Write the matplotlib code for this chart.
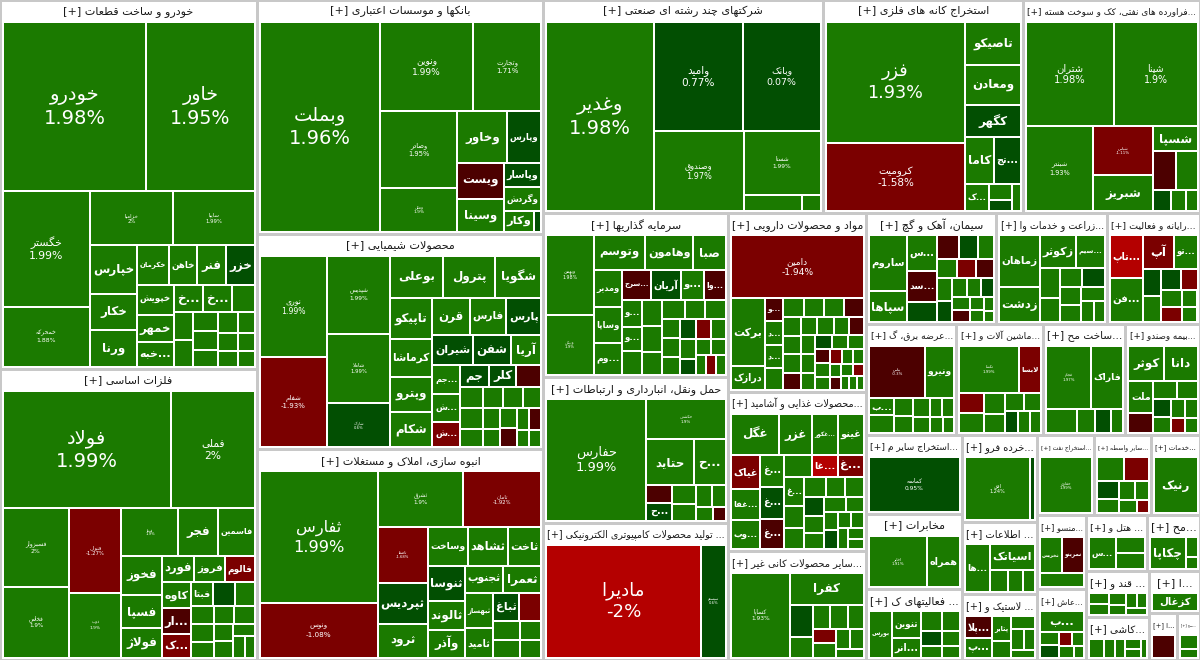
import matplotlib
matplotlib.use("Agg")
import matplotlib.pyplot as plt
from matplotlib.patches import Rectangle

plt.rcParams['font.family'] = ['DejaVu Sans']

# ---------------- data ----------------
t01 = "خودرو و ساخت قطعات"
n01 = ["خودرو", "خاور", "خگستر", "خمحرکه", "خزامیا", "سایپا", "خپارس", "خکار", "ورنا", "خکرمان", "خاهن", "فنر", "خزر", "خپویش", "خمهر", "...خبه", "...خ", "...خ", "", "", "", "", "", "", "", "", "", "", "", ""]
v01 = [236, 178, 98, 51, 43, 43, 22, 16.5, 16.5, 12, 11, 11, 11, 10.5, 9.5, 8.7, 7.5, 7.5, 6, 5.5, 5, 4.5, 4.5, 4, 4, 3.5, 3.5, 3, 3, 2.5]
c01 = [1.98, 1.95, 1.99, 1.88, 2, 1.99, 1.95, 1.8, 1.7, 1.8, 1.7, 1.6, 0.5, 1.8, 1.6, 1.7, 1.5, 1.5, 1.5, 1.5, 1.5, 1.5, 1.5, 1.5, 1.5, 1.5, 1.5, 1.5, 1.5, 1.5]

t02 = "فلزات اساسی"
n02 = ["فولاد", "فملی", "فسبزوار", "فخاس", "فنوال", "ذوب", "فپنتا", "فجر", "فاسمین", "فخوز", "فسپا", "فولاژ", "فورد", "فروز", "فالوم", "کاوه", "...ار", "...ک", "فبتا", "", "", "", "", "", "", "", "", "", "", "", ""]
v02 = [188, 93, 50, 45, 42, 32, 26, 18, 17, 15, 12.6, 11.4, 8, 7.5, 7.3, 7.3, 7, 6.5, 5, 4.8, 4.5, 4, 4, 3.5, 3.5, 3.5, 3, 3, 2.5, 2.5, 2]
c02 = [1.99, 2, 2, 1.9, -1.27, 1.9, 1.9, 1.8, 1.7, 1.8, 1.6, 1.7, 1.5, 1.6, -1.5, 1.6, -0.5, -1.5, 1.5, 0.5, 1.5, 1.5, 1.5, 1.5, 1.5, 1.5, 1.5, 1.5, 1.5, 1.5, 1.5]

t03 = "بانکها و موسسات اعتباری"
n03 = ["وبملت", "ونوین", "وتجارت", "وصادر", "وملل", "وخاور", "وپارس", "ویست", "وسینا", "وپاسار", "وگردش", "وکار", ""]
v03 = [249, 82, 60, 58, 33, 25, 17, 16.6, 15, 9, 8.5, 6, 1.5]
c03 = [1.96, 1.99, 1.71, 1.95, 1.9, 1.8, 0.5, -0.6, 1.5, 0.4, 1.5, 1.5, 0.3]

t04 = "محصولات شیمیایی"
n04 = ["نوری", "شفام", "شپدیس", "شاملا", "شاراک", "بوعلی", "پترول", "شگویا", "تاپیکو", "کرماشا", "وپترو", "شکام", "قرن", "فارس", "پارس", "شیران", "شفن", "آریا", "...جم", "...ش", "...ش", "جم", "کلر", "", "", "", "", "", "", "", "", "", "", "", "", "", "", ""]
v04 = [64, 57, 46, 41, 26, 20.7, 20.7, 18, 16.4, 15, 14, 14, 13, 12.6, 12, 11.5, 11, 8.5, 7.5, 7, 6.5, 6, 5.5, 5, 4.5, 4.5, 4, 4, 4, 3.5, 3.5, 3, 3, 3, 2.5, 2.5, 2, 2]
c04 = [1.99, -1.93, 1.99, 1.99, 0.6, 1.9, 1.8, 1.8, 1.7, 1.7, 1.6, 1.6, 1.7, 1.6, 0.5, 0.4, 0.5, 1.5, 1.5, 1.5, -1.5, 0.5, 0.5, -0.5, 1.5, 1.5, 1.5, 1.5, 1.5, 1.5, 1.5, 1.5, 1.5, -0.5, 1.5, -0.5, 1.5, 1.5]

t05 = "انبوه سازی، املاک و مستغلات"
n05 = ["ثفارس", "ونوس", "ثشرق", "ثامان", "ثاصفا", "ثپردیس", "ثرود", "وساخت", "ثشاهد", "ثاخت", "ثنوسا", "ثالوند", "وآذر", "ثجنوب", "ثعمرا", "ثبهساز", "ثامید", "ثباغ", "", "", "", "", ""]
v05 = [150, 62, 46, 42, 27, 20, 16, 15, 15, 12.5, 12.5, 10.5, 10, 9.8, 9.8, 9.5, 8, 7, 6, 5, 4.5, 4, 3.5]
c05 = [1.99, -1.08, 1.9, -1.92, -1.68, 0.6, 1.8, 1.7, 1.6, 1.8, 0.5, 1.7, 1.6, 1.7, 1.6, 1.7, 1.6, 0.5, -1.5, 1.5, 1.5, 1.5, 1.5]

t06 = "شرکتهای چند رشته ای صنعتی"
n06 = ["وغدیر", "وامید", "وبانک", "وصندوق", "شستا", "", ""]
v06 = [203, 97, 85, 72, 49, 9.3, 3]
c06 = [1.98, 0.77, 0.07, 1.97, 1.99, 1.5, 1.5]

t07 = "استخراج کانه های فلزی"
n07 = ["فزر", "کرومیت", "تاصیکو", "ومعادن", "کگهر", "کاما", "...تج", "...ک", "", "", ""]
v07 = [168, 95, 24, 22, 18, 13.3, 12.4, 6.5, 3.5, 2.5, 2.5]
c07 = [1.93, -1.58, 1.8, 1.7, 0.5, 1.6, 0.5, 1.5, 1.5, 0.5, 1.5]

t08 = "...فراورده های نفتی، کک و سوخت هسته"
n08 = ["شتران", "شپنا", "شبندر", "شپاس", "شبریز", "شسپا", "", "", "", "", ""]
v08 = [92, 87, 57, 30, 22, 11, 9, 8.5, 3.7, 3, 2.5]
c08 = [1.98, 1.9, 1.93, -1.11, 1.8, 1.6, -0.5, 1.5, 0.5, 1.5, 1.5]

t09 = "سرمایه گذاریها"
n09 = ["وبهمن", "ونیکی", "وتوسم", "وهامون", "صبا", "ومدیر", "وساپا", "...وم", "...سرج", "آریان", "...و", "...وا", "...و", "...و", "", "", "", "", "", "", "", "", "", "", "", "", "", "", "", "", "", "", "", ""]
v09 = [38, 29, 18, 16.6, 11.5, 10.5, 10.5, 9, 9, 9, 7, 6.7, 5.5, 5, 5, 5, 5, 4.5, 4.5, 4, 4, 3.5, 3.5, 3.5, 3, 3, 3, 3, 2.5, 2.5, 2.5, 2, 2, 2]
c09 = [1.98, 1.9, 1.8, 1.7, 1.6, 1.7, 1.6, 1.5, -0.5, 0.5, 1.5, -0.5, 1.5, 1.5, 1.5, 1.5, 1.5, 1.5, 1.5, 1.5, 1.5, 1.5, 1.5, 1.5, 0.5, -1.5, 1.5, 1.5, 0.5, 1.5, 1.5, 1.5, -1.5, 1.5]

t10 = "حمل ونقل، انبارداری و ارتباطات"
n10 = ["حفارس", "حکشتی", "حتاید", "...ح", "", "...ح", "", "", "", "", "", ""]
v10 = [123, 32, 22, 15, 4.7, 4.5, 4.5, 4, 3.5, 3, 2.5, 1.8]
c10 = [1.99, 1.9, 1.8, 1.5, -0.5, 0.5, 1.5, 1.5, 1.5, 1.5, 1.5, -0.5]

t11 = "... تولید محصولات کامپیوتری الکترونیکی"
n11 = ["مادیرا", "سیستم"]
v11 = [180, 29]
c11 = [-2, 0.6]

t12 = "مواد و محصولات دارویی"
n12 = ["دامین", "برکت", "درازک", "...و", "...د", "...د"] + [""] * 32
v12 = [90, 25, 8.6, 4.6, 4.6, 4.6, 4.4, 4.2, 4.2, 4.0, 4.0, 3.8, 3.6, 3.6, 3.4, 3.2, 3.2, 3.0, 3.0, 2.8, 2.8, 2.6, 2.6, 2.4, 2.4, 2.2, 2.2, 2.0, 2.0, 1.8, 1.8, 1.6, 1.6, 1.4, 1.4, 1.2, 1.2, 1.0]
c12 = [-1.94, 1.9, 1.5, -0.5, 1.5, 1.5, 1.5, 1.5, 1.5, 1.5, -0.5, 1.5, 1.5, 1.5, -0.5, 1.5, 1.5, 1.5, -0.5, 1.5, 1.5, 1.5, 0.5, 1.5, 1.5, -0.5, 1.5, 1.5, -1.5, 1.5, 1.5, 1.5, -0.5, 1.5, -1.5, 1.5, 1.5, 1.5]

t13 = "...محصولات غذایی و آشامید"
n13 = ["غگل", "غزر", "...غکور", "غینو", "غیاک", "...غفا", "...وب", "...غ", "...غ", "...غ", "", "...غا", "...غ", "...غ"] + [""] * 17
v13 = [18.7, 12.5, 10, 10, 9.5, 8.5, 8, 7, 7, 6.5, 6, 5.5, 5.5, 5.5, 4.5, 4, 4, 3.5, 3.5, 3.5, 3, 3, 3, 2.5, 2.5, 2.5, 2, 2, 2, 1.5, 1.5]
c13 = [1.9, 1.8, 1.6, 1.7, -1.5, 1.5, 1.5, 1.5, 0.5, -0.5, 1.5, -2.2, -1.5, 1.5, 1.5, 1.5, 1.5, 1.5, 1.5, 0.5, 1.5, 1.5, 1.5, 1.5, 1.5, 0.5, 1.5, 1.5, 1.5, 1.5, 1.5]

t14 = "...سایر محصولات کانی غیر"
n14 = ["کساپا", "کفرا", "", "", "", "", "", "", "", "", "", ""]
v14 = [53, 25, 7.6, 5, 4.5, 4.5, 4, 3.5, 3.5, 3, 3, 2.5]
c14 = [1.93, 2, 0.5, 1.5, 1.5, 1.5, 1.5, -1.5, 1.5, 1.5, 1.5, 1.5]

t15 = "سیمان، آهک و گچ"
n15 = ["ساروم", "سپاها", "...س", "...سد"] + [""] * 18
v15 = [19, 10.5, 9.6, 8.4, 5.2, 4.5, 4, 3.5, 3.5, 3.2, 3.2, 3, 2.8, 2.6, 2.4, 2.2, 2, 1.8, 1.6, 1.5, 1.2, 1.0]
c15 = [1.9, 1.8, 1.5, -0.6, 0.5, -0.5, 0.5, 1.5, 1.5, -1.5, -0.5, 1.5, 0.5, 1.5, 1.5, 0.5, 1.5, -0.5, 1.5, 1.5, 1.5, 1.5]

t16 = "...زراعت و خدمات وا"
n16 = ["زماهان", "زدشت", "زکوثر", "...سیم", "", "", "", "", "", "", "", "", ""]
v16 = [19.6, 13, 11, 8.7, 5.4, 4.2, 4, 4, 3.5, 3.2, 3, 2.5, 2]
c16 = [1.9, 1.8, 1.8, 1.6, 1.5, 1.5, 1.5, 0.5, 1.5, 1.5, 1.5, 1.5, 1.5]

t17 = "...رایانه و فعالیت"
n17 = ["...تاپ", "...فن", "آپ", "...تو", "", "", "", "", "", "", "", ""]
v17 = [12, 12, 8.7, 6.7, 4.2, 4, 3.6, 3, 2.8, 2.5, 2.2, 2]
c17 = [-2.5, 1.5, -1.5, 1.5, 0.5, 1.5, 0.5, -1.5, 1.5, -1.5, 1.5, 1.5]

t18 = "...عرضه برق، گ"
n18 = ["بپاس", "ونیرو", "...ب", "", "", "", "", "", "", "", "", ""]
v18 = [33, 17, 5, 5, 4, 3.6, 3.4, 3, 2.8, 2.6, 2.4, 2]
c18 = [-0.3, 1.8, 1.5, 1.5, 1.5, 1.5, 1.5, 1.5, 1.5, 1.5, 1.5, 1.5]

t19 = "...ماشین آلات و"
n19 = ["تکشا", "لابسا", "", "", "", "", "", "", "", "", ""]
v19 = [29, 10.8, 5, 5, 4.5, 4, 3.5, 3.2, 3, 2.8, 2.5]
c19 = [1.99, -1.5, -1.5, 1.5, 1.5, 1.5, 1.5, 1.5, 0.5, 1.5, 1.5]

t20 = "...ساخت مح"
n20 = ["فجام", "فاراک", "", "", "", ""]
v20 = [30, 22, 7.6, 4.5, 4.2, 3]
c20 = [1.97, 1.8, 1.5, 1.5, 0.5, 1.5]

t21 = "...بیمه وصندو"
n21 = ["کوثر", "دانا", "ملت", "", "", "", "", "", "", "", "", ""]
v21 = [13.3, 12.6, 8.4, 5.2, 4.5, 4, 3.4, 3, 2.8, 2.5, 2.2, 2]
c21 = [1.8, 1.7, 1.6, -0.5, 1.5, 1.5, 0.5, 1.5, 1.5, 1.5, -1.5, 1.5]

t22 = "...استخراج سایر م"
n22 = ["کماسه"]
v22 = [56]
c22 = [0.95]

t23 = "مخابرات"
n23 = ["اخابر", "همراه"]
v23 = [33, 19]
c23 = [1.91, 1.8]

t24 = "...خرده فرو"
n24 = ["افق", ""]
v24 = [44, 3.5]
c24 = [1.24, 0.5]

t25 = "... فعالیتهای ک"
n25 = ["بورس", "تنوین", "...انر", "", "", "", "", "", ""]
v25 = [10.5, 7.6, 5.4, 4, 3.5, 3, 2.5, 2.5, 2]
c25 = [1.8, 1.7, 1.6, 1.5, 1.5, 0.5, 1.5, 1.5, 1.5]

t26 = "... اطلاعات"
n26 = ["...ها", "اسیاتک", "", "", ""]
v26 = [13.5, 12.7, 4.5, 3.5, 3]
c26 = [1.7, 1.6, 1.5, 1.5, 1.5]

t27 = "... لاستیک و"
n27 = ["...پلا", "...پ", "پتایر", "", "", "", "", ""]
v27 = [6.7, 6, 5.5, 3.5, 3.5, 3, 2.5, 2]
c27 = [-0.5, 1.5, 1.5, 1.5, 1.5, 1.5, 1.5, 1.5]

t28 = "...استخراج نفت"
n28 = ["حفاری"]
v28 = [26]
c28 = [1.99]

t29 = "...سایر واسطه"
n29 = ["", "", "", "", "", "", "", ""]
v29 = [6, 5.4, 3.6, 3, 2.8, 2.5, 2.2, 1.5]
c29 = [1.5, -1.5, 0.5, 1.5, 1.5, 1.5, 1.5, -1.5]

t30 = "...خدمات"
n30 = ["رنیک"]
v30 = [24]
c30 = [1.99]

t31 = "...منسو"
n31 = ["نخریس", "نمرینو", ""]
v31 = [8, 8, 6.2]
c31 = [1.6, -0.5, 1.5]

t32 = "... هتل و"
n32 = ["...س", "", ""]
v32 = [8, 4.4, 4.4]
c32 = [1.5, 1.5, 1.5]

t33 = "...عاش"
n33 = ["...ب", "", "", "", "", "", ""]
v33 = [10.5, 3, 2.8, 2, 2, 2, 1.5]
c33 = [1.5, 1.5, 0.5, -1.5, 1.5, 1.5, 1.5]

t34 = "...مح"
n34 = ["چکاپا", "", ""]
v34 = [12.5, 2.5, 1.5]
c34 = [1.6, 1.5, 1.5]

t35 = "...کاشی"
n35 = ["", "", "", "", "", ""]
v35 = [5, 4, 3.5, 3, 2.5, 2]
c35 = [1.5, 1.5, 1.5, 1.5, 1.5, 1.5]

t36 = "... قند و"
n36 = ["", "", "", "", "", "", ""]
v36 = [3, 2.8, 2.6, 2.4, 2.2, 2, 1.8]
c36 = [1.5, 1.5, 1.5, 1.5, 1.5, 1.5, 1.5]

t37 = "...ا"
n37 = ["کزغال"]
v37 = [13]
c37 = [1.8]

t38 = "...ا"
n38 = [""]
v38 = [7]
c38 = [-0.5]

t39 = "...سح"
n39 = ["", ""]
v39 = [3, 2]
c39 = [1.5, 1.5]

# sector weights (market value share), same order as t01..t39
sector_sizes = [931, 734, 657, 606, 590, 586, 420, 370, 297, 264, 248, 242, 215, 147, 141, 120,
                100, 99, 95, 90, 81, 74, 71, 64, 66, 53, 48, 45, 45, 38, 36, 33, 34, 29, 26, 28, 21, 13, 10]

# ---------------- Arabic shaping (matplotlib has no complex text layout) ----------------
_AR = {
    'ء': (0xFE80, None, None, None), 'آ': (0xFE81, 0xFE82, None, None), 'أ': (0xFE83, 0xFE84, None, None),
    'ؤ': (0xFE85, 0xFE86, None, None), 'إ': (0xFE87, 0xFE88, None, None), 'ئ': (0xFE89, 0xFE8A, 0xFE8B, 0xFE8C),
    'ا': (0xFE8D, 0xFE8E, None, None), 'ب': (0xFE8F, 0xFE90, 0xFE91, 0xFE92), 'ة': (0xFE93, 0xFE94, None, None),
    'ت': (0xFE95, 0xFE96, 0xFE97, 0xFE98), 'ث': (0xFE99, 0xFE9A, 0xFE9B, 0xFE9C), 'ج': (0xFE9D, 0xFE9E, 0xFE9F, 0xFEA0),
    'ح': (0xFEA1, 0xFEA2, 0xFEA3, 0xFEA4), 'خ': (0xFEA5, 0xFEA6, 0xFEA7, 0xFEA8), 'د': (0xFEA9, 0xFEAA, None, None),
    'ذ': (0xFEAB, 0xFEAC, None, None), 'ر': (0xFEAD, 0xFEAE, None, None), 'ز': (0xFEAF, 0xFEB0, None, None),
    'س': (0xFEB1, 0xFEB2, 0xFEB3, 0xFEB4), 'ش': (0xFEB5, 0xFEB6, 0xFEB7, 0xFEB8), 'ص': (0xFEB9, 0xFEBA, 0xFEBB, 0xFEBC),
    'ض': (0xFEBD, 0xFEBE, 0xFEBF, 0xFEC0), 'ط': (0xFEC1, 0xFEC2, 0xFEC3, 0xFEC4), 'ظ': (0xFEC5, 0xFEC6, 0xFEC7, 0xFEC8),
    'ع': (0xFEC9, 0xFECA, 0xFECB, 0xFECC), 'غ': (0xFECD, 0xFECE, 0xFECF, 0xFED0), 'ف': (0xFED1, 0xFED2, 0xFED3, 0xFED4),
    'ق': (0xFED5, 0xFED6, 0xFED7, 0xFED8), 'ك': (0xFED9, 0xFEDA, 0xFEDB, 0xFEDC), 'ل': (0xFEDD, 0xFEDE, 0xFEDF, 0xFEE0),
    'م': (0xFEE1, 0xFEE2, 0xFEE3, 0xFEE4), 'ن': (0xFEE5, 0xFEE6, 0xFEE7, 0xFEE8), 'ه': (0xFEE9, 0xFEEA, 0xFEEB, 0xFEEC),
    'و': (0xFEED, 0xFEEE, None, None), 'ى': (0xFEEF, 0xFEF0, None, None), 'ي': (0xFEF1, 0xFEF2, 0xFEF3, 0xFEF4),
    'پ': (0xFB56, 0xFB57, 0xFB58, 0xFB59), 'چ': (0xFB7A, 0xFB7B, 0xFB7C, 0xFB7D), 'ژ': (0xFB8A, 0xFB8B, None, None),
    'ک': (0xFB8E, 0xFB8F, 0xFB90, 0xFB91), 'گ': (0xFB92, 0xFB93, 0xFB94, 0xFB95), 'ی': (0xFBFC, 0xFBFD, 0xFBFE, 0xFBFF),
}
_LAMALEF = {'ا': (0xFEFB, 0xFEFC), 'آ': (0xFEF5, 0xFEF6), 'أ': (0xFEF7, 0xFEF8), 'إ': (0xFEF9, 0xFEFA)}


def _dual(c):
    return c in _AR and _AR[c][2] is not None


def shape(s):
    out = []
    i, n = 0, len(s)
    while i < n:
        c = s[i]
        if c not in _AR:
            if c != '\u200c':
                out.append(c)
            i += 1
            continue
        jp = i > 0 and _dual(s[i - 1])
        if c == 'ل' and i + 1 < n and s[i + 1] in _LAMALEF:
            iso, fin = _LAMALEF[s[i + 1]]
            out.append(chr(fin if jp else iso))
            i += 2
            continue
        jn = _dual(c) and i + 1 < n and s[i + 1] in _AR
        f = _AR[c]
        if jp and jn:
            code = f[3]
        elif jp:
            code = f[1]
        elif jn:
            code = f[2]
        else:
            code = f[0]
        out.append(chr(code))
        i += 1
    return ''.join(out)


def vis(s):
    return shape(s)[::-1]


# ---------------- squarified layout ----------------
def _asp(a, b):
    if a <= 0.5 or b <= 0.5:
        return 1e9
    return max(a / b, b / a)


def squarify(vals, x, y, w, h, pw=0.0, ph=0.0):
    out = []
    i, n = 0, len(vals)
    while i < n:
        rest = sum(vals[i:])
        horiz = w < h

        def worst(j):
            s = sum(vals[i:j])
            if horiz:
                t = h * s / rest
                return max(_asp(w * v / s - pw, t - ph) for v in vals[i:j])
            t = w * s / rest
            return max(_asp(t - pw, h * v / s - ph) for v in vals[i:j])

        j = i + 1
        cur = worst(j)
        while j < n:
            nw = worst(j + 1)
            if nw > cur:
                break
            cur = nw
            j += 1
        s = sum(vals[i:j])
        if horiz:
            t = h * s / rest
            xx = x
            for v in vals[i:j]:
                ww = w * v / s
                out.append((xx, y, ww, t))
                xx += ww
            y += t
            h -= t
        else:
            t = w * s / rest
            yy = y
            for v in vals[i:j]:
                hh = h * v / s
                out.append((x, yy, t, hh))
                yy += hh
            x += t
            w -= t
        i = j
    return out


GREEN, DKGREEN, DKRED, RED, BRRED = '#1b7a00', '#024f02', '#4c0000', '#7b0000', '#b40000'


def color(c):
    if c >= 1:
        return GREEN
    if c >= 0:
        return DKGREEN
    if c > -1:
        return DKRED
    if c > -2:
        return RED
    return BRRED


def pct(c):
    return ('%g' % c) + '%'


titles = [t01, t02, t03, t04, t05, t06, t07, t08, t09, t10, t11, t12, t13, t14, t15, t16, t17, t18, t19, t20,
          t21, t22, t23, t24, t25, t26, t27, t28, t29, t30, t31, t32, t33, t34, t35, t36, t37, t38, t39]
names = [n01, n02, n03, n04, n05, n06, n07, n08, n09, n10, n11, n12, n13, n14, n15, n16, n17, n18, n19, n20,
         n21, n22, n23, n24, n25, n26, n27, n28, n29, n30, n31, n32, n33, n34, n35, n36, n37, n38, n39]
values = [v01, v02, v03, v04, v05, v06, v07, v08, v09, v10, v11, v12, v13, v14, v15, v16, v17, v18, v19, v20,
          v21, v22, v23, v24, v25, v26, v27, v28, v29, v30, v31, v32, v33, v34, v35, v36, v37, v38, v39]
changes = [c01, c02, c03, c04, c05, c06, c07, c08, c09, c10, c11, c12, c13, c14, c15, c16, c17, c18, c19, c20,
           c21, c22, c23, c24, c25, c26, c27, c28, c29, c30, c31, c32, c33, c34, c35, c36, c37, c38, c39]

W, H = 1200, 660
HEADER = 20
fig = plt.figure(figsize=(12, 6.6), dpi=100)
fig.patch.set_facecolor('#c8c8c8')
ax = fig.add_axes([0, 0, 1, 1])
ax.set_xlim(0, W)
ax.set_ylim(H, 0)
ax.axis('off')
renderer = fig.canvas.get_renderer()


def fit(texts, maxw, maxh=None):
    widths = [t.get_window_extent(renderer).width for t in texts]
    scale = 1.0
    wmax = max(widths) if widths else 0
    if wmax > maxw > 0:
        scale = maxw / wmax
    if scale < 1.0:
        for t in texts:
            t.set_fontsize(max(2.5, t.get_fontsize() * scale))


sorder = sorted(range(len(sector_sizes)), key=lambda k: -sector_sizes[k])
srects = squarify([sector_sizes[k] for k in sorder], 0, 0, W, H, 3, 12)

PX = 0.72  # points per pixel at dpi 100

for k, (x, y, w, h) in zip(sorder, srects):
    x0, y0, x1, y1 = x + 1.5, y + 1.5, x + w - 1.5, y + h - 1.5
    if x1 - x0 < 2 or y1 - y0 < 2:
        continue
    sp = Rectangle((x0, y0), x1 - x0, y1 - y0, facecolor='white', edgecolor='none')
    ax.add_patch(sp)
    hp = Rectangle((x0, y0), x1 - x0, min(HEADER, y1 - y0), facecolor='none', edgecolor='none')
    ax.add_patch(hp)
    ht = ax.text((x0 + x1) / 2, y0 + 10, '[+] ' + vis(titles[k]), ha='center', va='center',
                 fontsize=8, color='#1a1a1a')
    fit([ht], x1 - x0 - 4)
    ht.set_clip_path(hp)
    ix0, iy0, ix1, iy1 = x0 + 1, y0 + HEADER, x1 - 1, y1 - 1
    if iy1 - iy0 < 2:
        continue
    vals = values[k]
    corder = sorted(range(len(vals)), key=lambda m: -vals[m])
    crects = squarify([vals[m] for m in corder], ix0, iy0, ix1 - ix0, iy1 - iy0, 2, 2)
    for m, (cx, cy, cw, ch) in zip(corder, crects):
        rx, ry, rw, rh = cx + 1, cy + 1, cw - 2, ch - 2
        if rw <= 0 or rh <= 0:
            continue
        cp = Rectangle((rx, ry), rw, rh, facecolor=color(changes[k][m]), edgecolor='none')
        ax.add_patch(cp)
        nm = names[k][m]
        if not nm:
            continue
        area = rw * rh
        mx, my = rx + rw / 2, ry + rh / 2
        if area >= 2500:
            fpx = min(19.5, 1.2 + area / 1000.0)
            t1 = ax.text(mx, my - 0.55 * fpx, vis(nm), ha='center', va='center',
                         fontsize=fpx * PX, color='white')
            t2 = ax.text(mx, my + 0.62 * fpx, pct(changes[k][m]), ha='center', va='center',
                         fontsize=fpx * PX, color='white')
            fit([t1, t2], rw - 4)
            t1.set_clip_path(cp)
            t2.set_clip_path(cp)
        elif rw >= 14 and rh >= 12:
            fpt = min(8.6, rh * 0.45)
            t1 = ax.text(mx, my, vis(nm), ha='center', va='center', fontsize=fpt,
                         color='white', fontweight='bold')
            fit([t1], rw - 3)
            t1.set_clip_path(cp)

fig.savefig('out.png', dpi=100, facecolor=fig.get_facecolor())
